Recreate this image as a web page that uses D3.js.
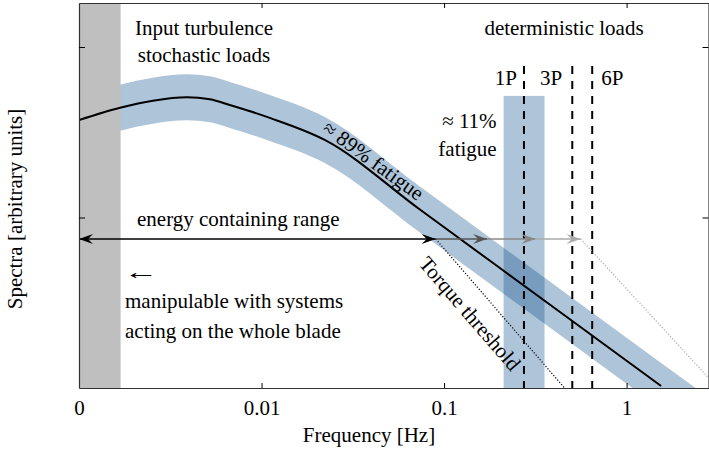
<!DOCTYPE html>
<meta charset="utf-8">
<style>
    svg text { font-family: "Liberation Serif", "Times New Roman", serif; font-size: 21px; fill: #000; }
</style>
<body style="margin:0">
<script src="https://d3js.org/d3.v7.min.js"></script>
<svg></svg>
<script>
    var width = 709;
    var height = 459;

    // spectrum: frequency [Hz] and value [arbitrary units]
    var specFreq = [0.001, 0.00168, 0.00254, 0.0039, 0.00521, 0.0067, 0.0111, 0.0222, 0.0734, 0.487, 1.546];
    var specVal  = [1.572, 1.644, 1.685, 1.705, 1.693, 1.660, 1.584, 1.455, 1.048, 0.405, 0.012];
    // the blue band goes on below the axis after the line stops
    var bandFreq = specFreq.concat([2.81]);
    var bandVal  = specVal.concat([-0.19]);
    var bandHalf = 0.135;

    var lowBand = [0.001, 0.00169];          // grey strip, whole blade systems
    var pBand = [0.212, 0.355], pBandTop = 1.713;   // 1P region
    var harmFreq = [0.274, 0.504, 0.648];
    var harmLabels = ["1P", "3P", "6P"];
    var harmTop = 1.889;

    var arrowVal = 0.874;
    var arrowStops = [0.001, 0.09, 0.172, 0.317, 0.56];
    var arrowColors = ["#000", "#555", "#888", "#aaa"];

    var torqueFreq = [0.09, 0.457], torqueVal = [0.874, 0];
    var limitFreq = [0.56, 2.81], limitVal = [0.874, 0.06];

    var xTicks = [0.001, 0.01, 0.1, 1];
    var xTickLabels = ["0", "0.01", "0.1", "1"];
    var yTicks = [1, 2];

    var svg = d3.select("svg")
        .attr("width", width)
        .attr("height", height)
        .style("background-color", "white");

    var x = d3.scaleLog().domain([0.001, 2.81]).range([79, 708.5]);
    var y = d3.scaleLinear().domain([0, 2.258]).range([388, 3]);

    var defs = svg.append("defs");
    defs.append("clipPath").attr("id", "plot")
        .append("rect").attr("x", 79).attr("y", 3).attr("width", 629.5).attr("height", 385);

    // arrow heads, one per colour
    arrowColors.forEach(function(c, i) {
        defs.append("marker")
            .attr("id", "head" + i)
            .attr("viewBox", "-15 -6 16 12")
            .attr("refX", 0).attr("refY", 0)
            .attr("markerWidth", 16).attr("markerHeight", 12)
            .attr("markerUnits", "userSpaceOnUse")
            .attr("orient", "auto-start-reverse")
            .append("path")
            .attr("d", "M0,0 L-14,-5 L-9,0 L-14,5 Z")
            .attr("fill", c);
    });

    var plot = svg.append("g").attr("clip-path", "url(#plot)");

    // **** BANDS ****
    var band = d3.area()
        .x(function(d) { return x(d[0]); })
        .y0(function(d) { return y(d[1] - bandHalf); })
        .y1(function(d) { return y(d[1] + bandHalf); })
        .curve(d3.curveMonotoneX);

    plot.append("path")
        .attr("d", band(d3.zip(bandFreq, bandVal)))
        .attr("fill", "rgb(10,76,137)")
        .attr("fill-opacity", 0.33);

    plot.append("rect")
        .attr("x", x(pBand[0]))
        .attr("width", x(pBand[1]) - x(pBand[0]))
        .attr("y", y(pBandTop))
        .attr("height", y(0) - y(pBandTop))
        .attr("fill", "rgb(10,76,137)")
        .attr("fill-opacity", 0.33);

    plot.append("rect")
        .attr("x", x(lowBand[0]))
        .attr("width", x(lowBand[1]) - x(lowBand[0]))
        .attr("y", y(y.domain()[1]))
        .attr("height", y(0) - y(y.domain()[1]))
        .attr("fill", "#bfbfbf");

    // **** SPECTRUM ****
    var line = d3.line()
        .x(function(d) { return x(d[0]); })
        .y(function(d) { return y(d[1]); })
        .curve(d3.curveMonotoneX);

    plot.append("path")
        .attr("d", line(d3.zip(specFreq, specVal)))
        .attr("fill", "none")
        .attr("stroke", "#000")
        .attr("stroke-width", 2);

    // harmonics
    plot.selectAll(".harm").data(harmFreq).enter().append("line")
        .attr("x1", function(d) { return x(d); })
        .attr("x2", function(d) { return x(d); })
        .attr("y1", y(harmTop))
        .attr("y2", y(0))
        .attr("stroke", "#000")
        .attr("stroke-width", 2)
        .attr("stroke-dasharray", "8,7");

    // thresholds
    var straight = d3.line()
        .x(function(d) { return x(d[0]); })
        .y(function(d) { return y(d[1]); });
    var dots = [[torqueFreq, torqueVal, "#000"], [limitFreq, limitVal, "#aaa"]];
    dots.forEach(function(t) {
        plot.append("path")
            .attr("d", straight(d3.zip(t[0], t[1])))
            .attr("fill", "none")
            .attr("stroke", t[2])
            .attr("stroke-width", 1.2)
            .attr("stroke-dasharray", "1.2,1.8");
    });

    // energy containing range arrows
    for (var i = 0; i < arrowColors.length; i++) {
        var seg = svg.append("line")
            .attr("x1", x(arrowStops[i]))
            .attr("x2", x(arrowStops[i + 1]))
            .attr("y1", y(arrowVal))
            .attr("y2", y(arrowVal))
            .attr("stroke", arrowColors[i])
            .attr("stroke-width", 1.3)
            .attr("marker-end", "url(#head" + i + ")");
        if (i == 0) seg.attr("marker-start", "url(#head0)");
    }

    // **** AXES ****
    function style(g) {
        g.attr("font-family", null).attr("font-size", null);
        g.select(".domain").attr("stroke", "#333").attr("stroke-width", 1.2);
        g.selectAll(".tick line").attr("stroke", "#000");
    }
    svg.append("g").attr("transform", "translate(0," + y(0) + ")")
        .call(d3.axisBottom(x).tickValues(xTicks)
            .tickFormat(function(d, i) { return xTickLabels[i]; })
            .tickSizeInner(-5).tickSizeOuter(0).tickPadding(12))
        .call(style);
    svg.append("g").attr("transform", "translate(0," + y(y.domain()[1]) + ")")
        .call(d3.axisTop(x).tickValues(xTicks.slice(1)).tickFormat("")
            .tickSizeInner(-5).tickSizeOuter(0))
        .call(style);
    svg.append("g").attr("transform", "translate(" + x(x.domain()[0]) + ",0)")
        .call(d3.axisLeft(y).tickValues(yTicks).tickFormat("")
            .tickSizeInner(-6).tickSizeOuter(0))
        .call(style);
    svg.append("g").attr("transform", "translate(" + x(x.domain()[1]) + ",0)")
        .call(d3.axisRight(y).tickValues(yTicks).tickFormat("")
            .tickSizeInner(-6).tickSizeOuter(0))
        .call(style);

    svg.append("text").attr("x", 369).attr("y", 442)
        .attr("text-anchor", "middle").text("Frequency [Hz]");
    svg.append("text")
        .attr("transform", "translate(22,209) rotate(-90)")
        .attr("text-anchor", "middle").text("Spectra [arbitrary units]");

    // **** ANNOTATIONS ****
    function label(px, py, s, anchor) {
        return svg.append("text").attr("x", px).attr("y", py)
            .attr("text-anchor", anchor || "start").text(s);
    }
    label(204, 35, "Input turbulence", "middle");
    label(204, 62, "stochastic loads", "middle");
    label(564, 35, "deterministic loads", "middle");
    label(137, 226, "energy containing range");
    label(125, 308, "manipulable with systems");
    label(125, 338, "acting on the whole blade");

    // long thin arrow glyph, stretched sideways
    svg.append("text").attr("transform", "translate(124,279) scale(1.65,1)").text("\u2190");

    label(x(harmFreq[0]) - 7, 85, harmLabels[0], "end");
    label(x(harmFreq[1]) - 10, 85, harmLabels[1], "end");
    label(x(harmFreq[2]) + 9, 85, harmLabels[2], "start");

    label(x(pBand[0]) - 7, 128, "\u2248 11%", "end");
    label(x(pBand[0]) - 7, 156, "fatigue", "end");

    // text along the straight part of the spectrum
    var k0 = [x(specFreq[7]), y(specVal[7])];
    var k1 = [x(specFreq[10]), y(specVal[10])];
    var a = Math.atan2(k1[1] - k0[1], k1[0] - k0[0]);
    svg.append("text")
        .attr("transform", "translate(" + (k0[0] - 8 * Math.cos(a)) + "," + (k0[1] - 8 * Math.sin(a)) +
            ") rotate(" + (a * 180 / Math.PI) + ")")
        .attr("y", -5)
        .text("\u2248 89% fatigue");

    // text under the torque threshold
    var t0 = [x(torqueFreq[0]), y(torqueVal[0])];
    var t1 = [x(torqueFreq[1]), y(torqueVal[1])];
    var b = Math.atan2(t1[1] - t0[1], t1[0] - t0[0]);
    var tm = [t0[0] + 0.4 * (t1[0] - t0[0]), t0[1] + 0.4 * (t1[1] - t0[1])];
    svg.append("text")
        .attr("transform", "translate(" + tm[0] + "," + tm[1] + ") rotate(" + (b * 180 / Math.PI) + ")")
        .attr("y", 30)
        .attr("text-anchor", "middle")
        .text("Torque threshold");
</script>
